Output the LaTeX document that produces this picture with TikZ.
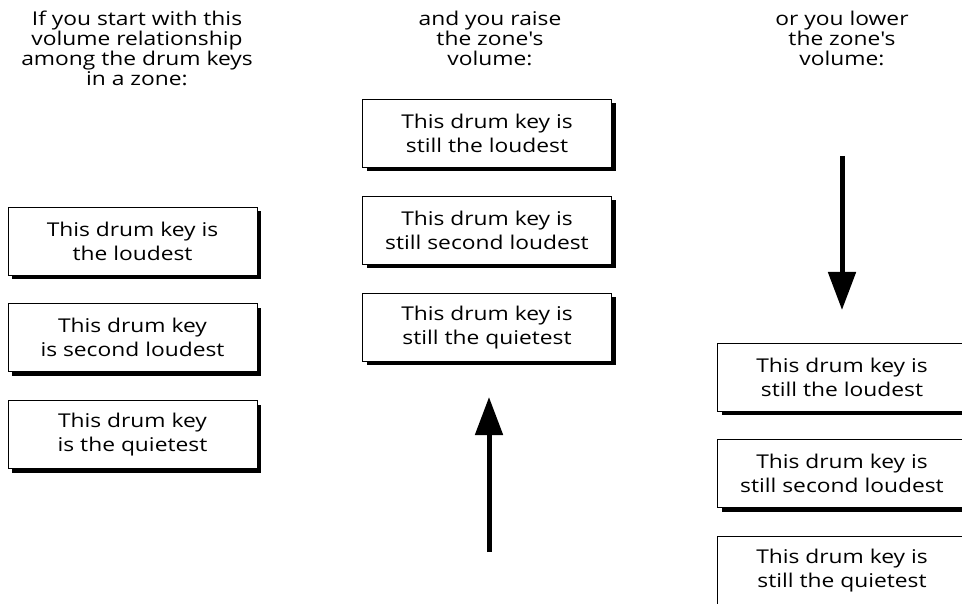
\documentclass[tikz,border=0pt]{standalone}
\usepackage{fontspec}
\setmainfont[FakeStretch=1.2]{Open Sans}
\usetikzlibrary{positioning,arrows.meta,shadows}
\tikzset{
    keybox/.style={draw=black,fill=white,line width=0.8pt,
        minimum width=249pt,minimum height=68pt,inner sep=0pt,align=center,
        font=\fontsize{19}{24}\selectfont,
        drop shadow={shadow xshift=4pt,shadow yshift=-4pt,fill=black,opacity=1}},
    heading/.style={anchor=north,inner sep=0pt,align=center,
        font=\fontsize{19}{20}\selectfont},
    bigarrow/.style={-{Triangle[length=38pt,width=27pt]},line width=5pt}
}
\begin{document}
\begin{tikzpicture}[x=1pt,y=-1pt,node distance=28pt]
    \useasboundingbox[fill=white] (0,0) rectangle (962,604);
    % headings
    \node[heading] (starthead) at (137,11) {If you start with this\\volume relationship\\among the drum keys\\in a zone:};
    \node[heading] (raisehead) at (490,11) {and you raise\\the zone\textquotesingle s\\volume:};
    \node[heading] (lowerhead) at (842,11) {or you lower\\the zone\textquotesingle s\\volume:};
    % start
    \node[keybox] (startloud) at (132.5,241) {This drum key is\\the loudest};
    \node[keybox] (startsecond) [below=of startloud] {This drum key\\is second loudest};
    \node[keybox] (startquiet) [below=of startsecond] {This drum key\\is the quietest};
    % raised
    \node[keybox] (raiseloud) at (487,133.5) {This drum key is\\still the loudest};
    \node[keybox] (raisesecond) [below=of raiseloud] {This drum key is\\still second loudest};
    \node[keybox] (raisequiet) [below=of raisesecond] {This drum key is\\still the quietest};
    % lowered
    \node[keybox] (lowerloud) at (842,377) {This drum key is\\still the loudest};
    \node[keybox] (lowersecond) [below=of lowerloud] {This drum key is\\still second loudest};
    \node[keybox] (lowerquiet) [below=of lowersecond] {This drum key is\\still the quietest};
    % arrows
    \coordinate (uptail) at (489,552);
    \coordinate (uptip) at (489,397);
    \coordinate (downtail) at (842,156);
    \coordinate (downtip) at (842,310);
    \draw[bigarrow] (uptail) -- (uptip);
    \draw[bigarrow] (downtail) -- (downtip);
\end{tikzpicture}
\end{document}
